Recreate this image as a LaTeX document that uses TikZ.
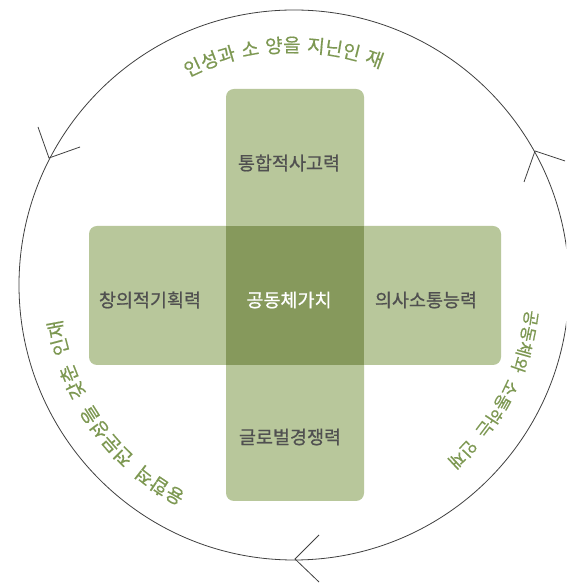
\documentclass[tikz,border=0pt]{standalone}
\usepackage{fontspec}
\setmainfont{Noto Sans CJK KR}
\newfontfamily\labelfont{Noto Sans CJK KR}[FakeBold=0.8]
\newfontfamily\ringfont{Noto Sans CJK KR}[FakeBold=0.4]
\usetikzlibrary{decorations.text}
\definecolor{barGreen}{RGB}{184,199,155}
\definecolor{coreGreen}{RGB}{134,153,92}
\definecolor{ringGreen}{RGB}{125,152,82}
\definecolor{labelGray}{RGB}{80,80,80}

\begin{document}
\begin{tikzpicture}[x=1pt, y=1pt,
  bar/.style={fill=barGreen, rounded corners=8pt, inner sep=0pt},
  core/.style={fill=coreGreen, inner sep=0pt},
  label/.style={text=labelGray, font=\labelfont\fontsize{18.5}{18.5}\selectfont},
  ringtext/.style n args={3}{decorate, decoration={text along path, text align=center,
    text color=ringGreen, text={|\ringfont\fontsize{#1}{#1}\selectfont\fontdimen2\font=#2\relax|#3}}},
  barb/.style={draw=black!75, line width=0.8pt}]
  \path [fill=white] (0, 0) rectangle (566, 583);
  \useasboundingbox (0, 0) rectangle (566, 583);
  \clip (0, 0) rectangle (566, 583);

  \node (ring) [circle, draw=black!75, line width=0.8pt, minimum size=550pt] at (294, 298) {};

  \node (vbar) [bar, minimum width=138pt, minimum height=412pt] at (295, 288) {};
  \node (hbar) [bar, minimum width=412pt, minimum height=139pt] at (295, 287.5) {};
  \node (core) [core, minimum width=138pt, minimum height=139pt] at (295, 287.5) {};

  \node (top) [label] at (289, 420) {통합적사고력};
  \node (left) [label] at (150, 283) {창의적기획력};
  \node (mid) [label, text=white] at (289, 283) {공동체가치};
  \node (right) [label] at (426, 283) {의사소통능력};
  \node (bottom) [label] at (290, 146) {글로벌경쟁력};

  \path [ringtext={19}{6pt}{인성과 소 양을 지닌인 재}]
    (ring.center) ++(142.65:233) arc [start angle=142.65, end angle=42.65, radius=233];
  \path [ringtext={19}{10pt}{융합적 전문성을 갖춘 인재}]
    (ring.center) ++(265.5:235) arc [start angle=265.5, end angle=165.5, radius=235];
  \path [ringtext={17}{9pt}{공동체와 소통하는 인재}]
    (ring.center) ++(22.5:233) arc [start angle=22.5, end angle=-77.5, radius=233];

  \coordinate (ltip) at (49, 425);
  \coordinate (la1) at (38, 456);
  \coordinate (la2) at (80, 436);
  \coordinate (rtip) at (535, 432);
  \coordinate (ra1) at (524, 401);
  \coordinate (ra2) at (565, 422);
  \coordinate (btip) at (295, 24);
  \coordinate (ba1) at (319, 48);
  \coordinate (ba2) at (319, 1);
  \draw [barb] (la1) -- (ltip) -- (la2);
  \draw [barb] (ra1) -- (rtip) -- (ra2);
  \draw [barb] (ba1) -- (btip) -- (ba2);
\end{tikzpicture}
\end{document}
